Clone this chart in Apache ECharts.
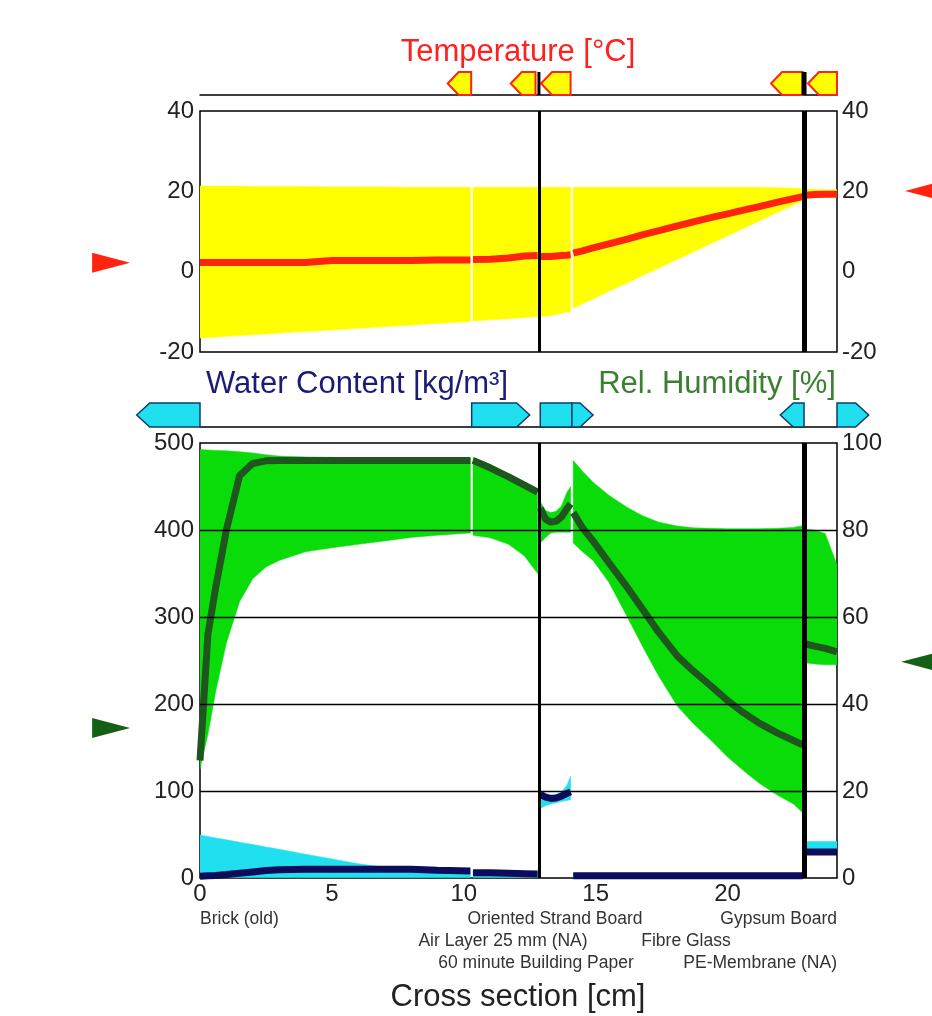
<!DOCTYPE html>
<html><head><meta charset="utf-8">
<script src="https://cdn.jsdelivr.net/npm/echarts@6/dist/echarts.min.js"></script>
<style>html,body{margin:0;padding:0;background:#fff}#c{width:932px;height:1016px}</style>
</head><body><div id="c"></div>
<script>
// ---- cross-section positions [cm]; null separates material layers ----
const crossX = [
  0, 0.3, 0.6, 1.0, 1.5, 2.0, 2.5, 3.0, 4.0, 5.0, 6.0, 7.0, 8.0, 9.0, 10.25, null,
  10.35, 11.0, 11.7, 12.3, 12.8, null,
  12.9, 13.1, 13.3, 13.5, 13.7, 13.9, 14.05, null,
  14.15, 14.5, 14.9, 15.5, 16.2, 16.8, 17.4, 18.1, 18.7, 19.4, 20.0, 20.6, 21.2, 21.9, 22.5, 22.85, null,
  22.95, 23.3, 23.7, 24.15
];
// ---- temperature [°C] ----
const tempMean = [
  2.3,2.3,2.3,2.3,2.3,2.3,2.3,2.3,2.3,2.8,2.8,2.8,2.8,2.9,2.9, null,
  3.0,3.1,3.4,3.9,4.0, null,
  3.8,3.8,3.8,3.9,4.0,4.1,4.2, null,
  4.6,5.2,5.9,6.9,8.1,9.2,10.2,11.4,12.4,13.5,14.4,15.3,16.2,17.3,18.2,18.7, null,
  19.0,19.2,19.3,19.3
];
const tempMax = [
  21.3,21.3,21.3,21.3,21.3,21.2,21.2,21.2,21.2,21.1,21.1,21.1,21.0,21.0,21.0, null,
  21.0,21.0,21.0,21.0,21.0, null,
  21.0,21.0,21.0,21.0,21.0,21.0,21.0, null,
  21.0,21.0,21.0,21.0,21.0,21.0,21.0,21.0,21.0,21.0,21.0,21.0,21.0,20.9,20.8,20.6, null,
  20.6,20.5,20.4,20.4
];
const tempMin = [
  -16.5,-16.4,-16.3,-16.1,-15.9,-15.7,-15.5,-15.3,-14.9,-14.5,-14.1,-13.7,-13.3,-12.9,-12.4, null,
  -12.3,-12.0,-11.7,-11.4,-11.2, null,
  -11.2,-11.1,-10.9,-10.7,-10.4,-10.1,-9.9, null,
  -9.1,-8.0,-6.8,-4.9,-2.8,-0.9,0.9,3.1,4.9,7.1,8.9,10.8,12.6,14.8,16.6,17.7, null,
  18.3,18.4,18.5,18.5
];
// ---- relative humidity [%] ----
const rhMean = [
  27,56,67,80,92.5,95.3,95.9,96.0,96.0,96.0,96.0,96.0,96.0,96.0,96.0, null,
  96.0,94.3,92.2,90.3,88.7, null,
  85.0,82.5,81.8,82.0,83.0,84.8,86.0, null,
  84.0,80.5,77.5,72.5,66.8,61.6,56.4,51.0,47.6,44.0,40.8,38.0,35.6,33.3,31.6,30.6, null,
  53.8,53.3,52.8,52.0
];
const rhMax = [
  98.5,98.4,98.3,98.2,98.0,97.7,97.3,97.0,96.8,96.7,96.6,96.6,96.6,96.6,96.6, null,
  96.7,95.0,92.8,90.8,89.2, null,
  86.5,84.5,84.0,84.3,85.5,88.5,90.0, null,
  96.0,93.5,91.0,88.0,85.2,83.2,81.8,80.9,80.5,80.4,80.3,80.3,80.3,80.4,80.6,81.0, null,
  80.2,80.0,79.2,72.0
];
const rhMin = [
  25,33,43,54,63.5,68.8,71.5,73.0,75.0,75.9,76.7,77.5,78.3,78.8,79.3, null,
  78.8,78.2,76.7,74.0,70.0, null,
  77.0,78.3,79.3,79.5,79.5,79.5,79.5, null,
  77.0,75.0,73.0,68.0,60.0,53.0,46.3,39.5,35.5,31.5,27.8,24.7,21.8,19.0,17.0,15.0, null,
  49.5,49.2,49.0,49.0
];
// ---- water content [kg/m³] ----
const wcMean = [
  2,2.5,3,4,5.5,7,8.5,9.5,10,10,10,10,10,9,8, null,
  6,6,5.5,5,4.5, null,
  96,93,91.5,92,94,97,99, null,
  2.5,2.5,2.5,2.5,2.5,2.5,2.5,2.5,2.5,2.5,2.5,2.5,2.5,2.5,2.5,2.5, null,
  30,30,30,30
];
const wcMax = [
  49.4,47.8,46.1,43.9,41.2,38.4,35.7,33.0,27.4,21.9,16.4,12.5,11.5,10.5,9.0, null,
  8,7.5,7,6.5,6, null,
  99,96,95,96,99,106,117, null,
  5,5,5,5,5,5,5,5,5,5,5,5,5,5,5,5, null,
  42,42,42,42
];
const wcMin = [
  0.5,0.5,0.5,0.5,0.5,0.5,0.5,0.5,0.5,0.5,0.5,0.5,0.5,0.5,0.5, null,
  0.5,0.5,0.5,0.5,0.5, null,
  80,83,85,86.5,88,89,90, null,
  0.5,0.5,0.5,0.5,0.5,0.5,0.5,0.5,0.5,0.5,0.5,0.5,0.5,0.5,0.5,0.5, null,
  30,30,30,30
];
// ---- membranes (thin layers) [cm] ----
const membraneX = [12.85, 22.9];
// ---- indicator markers above the panels [cm] ----
const tempMarkStart = [9.39, 11.78, 12.93, 21.65, 23.05];
const tempMarkEnd   = [10.28, 12.72, 14.05, 22.85, 24.15];
const tempMarkDir   = ['left','left','left','left','left'];
const wcMarkStart = [-2.4, 10.3, 12.9, 14.1, 22.0, 24.15];
const wcMarkEnd   = [0, 12.5, 14.1, 14.9, 22.9, 25.35];
const wcMarkDir   = ['left','right','none','right','left','right'];
// ---- boundary-condition arrows [cm, value] ----
const tempBC = [[-3.37, 2.2], [27.45, 20.1]];
const rhBC   = [[-3.37, 34.5], [27.3, 49.7]];
// ---- axis ticks ----
const xTicks = { min: 0, max: 24.15, interval: 5 };
const tempTicks = { min: -20, max: 40, interval: 20 };
const wcTicks = { min: 0, max: 500, interval: 100 };
const rhTicks = { min: 0, max: 100, interval: 20 };
const wcGridLines = [100, 200, 300, 400];

const FONT = '"Liberation Sans", Arial, Helvetica, sans-serif';
const chart = echarts.init(document.getElementById('c'));

function segments(lo, hi) {
  const segs = []; let cur = [];
  crossX.forEach((x, i) => {
    if (x == null) { if (cur.length) segs.push(cur); cur = []; }
    else cur.push([x, lo[i], hi[i]]);
  });
  if (cur.length) segs.push(cur);
  return segs;
}
function band(xi, yi, lo, hi, color, z) {
  const segs = segments(lo, hi);
  return {
    type: 'custom', xAxisIndex: xi, yAxisIndex: yi, z, silent: true, clip: true,
    data: segs.map(s => [s[0][0], s[0][1]]),
    renderItem(params, api) {
      const s = segs[params.dataIndex];
      const top = s.map(p => api.coord([p[0], p[2]]));
      const bot = s.slice().reverse().map(p => api.coord([p[0], p[1]]));
      return { type: 'polygon', shape: { points: top.concat(bot) }, style: { fill: color, stroke: color, lineWidth: 0.5 } };
    }
  };
}
function lineData(vals) { return crossX.map((x, i) => x == null ? ['-', '-'] : [x, vals[i]]); }
function markers(xi, yi, starts, ends, dirs, fill, stroke, tip, lw) {
  return {
    type: 'custom', xAxisIndex: xi, yAxisIndex: yi, z: 5, silent: true, clip: false,
    data: starts.map(s => [s, 0]),
    renderItem(params, api) {
      const i = params.dataIndex;
      const a = api.coord([starts[i], 1]), b = api.coord([ends[i], 0]);
      const x0 = a[0], x1 = b[0], y0 = a[1], y1 = b[1], ym = (y0 + y1) / 2;
      let pts;
      if (dirs[i] === 'left') pts = [[x0, ym], [x0 + tip, y0], [x1, y0], [x1, y1], [x0 + tip, y1]];
      else if (dirs[i] === 'right') pts = [[x0, y0], [x1 - tip, y0], [x1, ym], [x1 - tip, y1], [x0, y1]];
      else pts = [[x0, y0], [x1, y0], [x1, y1], [x0, y1]];
      return { type: 'polygon', shape: { points: pts }, style: { fill, stroke, lineWidth: lw } };
    }
  };
}
const memWidths = [3, 5];
function dividers(xi, yi) {
  return {
    type: 'custom', xAxisIndex: xi, yAxisIndex: yi, z: 6, silent: true, clip: false,
    data: membraneX.map(x => [x, 0]),
    renderItem(params, api) {
      const i = params.dataIndex;
      const a = api.coord([membraneX[i], 1]), b = api.coord([membraneX[i], 0]);
      return { type: 'line', shape: { x1: a[0], y1: a[1], x2: b[0], y2: b[1] }, style: { stroke: '#000', lineWidth: memWidths[i] } };
    }
  };
}
const memLines = membraneX.map((x, i) => ({ xAxis: x, lineStyle: { width: memWidths[i], color: '#000', type: 'solid' } }));

const labelStyle = { fontSize: 24, fontFamily: FONT, color: '#222' };
const gridBase = { left: 200, width: 637, containLabel: false };
function xAx(gi, showLabels, showLine) {
  return {
    type: 'value', gridIndex: gi, min: xTicks.min, max: xTicks.max, interval: xTicks.interval,
    axisLine: { show: showLine, onZero: false, lineStyle: { color: '#000', width: 1.5 } },
    axisTick: { show: false }, splitLine: { show: false },
    axisLabel: Object.assign({ show: showLabels, margin: 4, showMaxLabel: false }, labelStyle)
  };
}
function yAx(gi, t, pos, show) {
  return {
    type: 'value', gridIndex: gi, position: pos, min: t.min, max: t.max, interval: t.interval,
    show: show, axisLine: { show: false }, axisTick: { show: false }, splitLine: { show: false },
    axisLabel: Object.assign({ margin: pos === 'left' ? 6 : 5 }, labelStyle)
  };
}
function txt(text, x, y, size, color, align) {
  return { type: 'text', x, y, z: 50, silent: true,
    style: { text, fill: color, font: size + 'px ' + FONT, align: align || 'center', textAlign: align || 'center', verticalAlign: 'middle', textVerticalAlign: 'middle' } };
}

chart.setOption({
  animation: false,
  backgroundColor: '#fff',
  grid: [
    Object.assign({ top: 72, height: 23, show: false }, gridBase),
    Object.assign({ top: 111, height: 241, show: true, borderColor: '#000', borderWidth: 1.5 }, gridBase),
    Object.assign({ top: 403, height: 24, show: false }, gridBase),
    Object.assign({ top: 443, height: 435, show: true, borderColor: '#000', borderWidth: 1.5 }, gridBase)
  ],
  xAxis: [xAx(0, false, true), xAx(1, false, false), xAx(2, false, true), xAx(3, true, false)],
  yAxis: [
    { type: 'value', gridIndex: 0, min: 0, max: 1, show: false },
    yAx(1, tempTicks, 'left', true),
    yAx(1, tempTicks, 'right', true),
    { type: 'value', gridIndex: 2, min: 0, max: 1, show: false },
    yAx(3, wcTicks, 'left', true),
    yAx(3, rhTicks, 'right', true)
  ],
  series: [
    band(1, 1, tempMin, tempMax, '#FFFF00', 2),
    { type: 'line', xAxisIndex: 1, yAxisIndex: 1, z: 3, data: lineData(tempMean), symbol: 'none', silent: true,
      connectNulls: false, lineStyle: { color: '#FF2410', width: 7 },
      markLine: { silent: true, symbol: ['none', 'none'], label: { show: false }, animation: false, data: memLines } },
    band(3, 5, rhMin, rhMax, '#0ADC0A', 2),
    { type: 'line', xAxisIndex: 3, yAxisIndex: 5, z: 3, data: lineData(rhMean), symbol: 'none', silent: true,
      connectNulls: false, lineStyle: { color: '#1E561E', width: 7 } },
    band(3, 4, wcMin, wcMax, '#20E0F0', 3),
    { type: 'line', xAxisIndex: 3, yAxisIndex: 4, z: 4, data: lineData(wcMean), symbol: 'none', silent: true,
      connectNulls: false, lineStyle: { color: '#0C0C5C', width: 7 },
      markLine: { silent: true, symbol: ['none', 'none'], label: { show: false }, animation: false,
        data: wcGridLines.map(v => ({ yAxis: v, lineStyle: { color: '#000', width: 1.3, type: 'solid' } })).concat(memLines) } },
    markers(0, 0, tempMarkStart, tempMarkEnd, tempMarkDir, '#FFFF00', '#FF2410', 11, 2),
    dividers(0, 0),
    markers(2, 3, wcMarkStart, wcMarkEnd, wcMarkDir, '#20E0F0', '#0C3C6C', 13, 1.5),
    { type: 'scatter', xAxisIndex: 1, yAxisIndex: 1, z: 8, clip: false, silent: true,
      symbol: 'triangle', symbolSize: [20, 38], itemStyle: { color: '#FF2410', opacity: 1 },
      data: [{ value: tempBC[0], symbolRotate: -90 }, { value: tempBC[1], symbolRotate: 90 }] },
    { type: 'scatter', xAxisIndex: 3, yAxisIndex: 5, z: 8, clip: false, silent: true,
      symbol: 'triangle', symbolSize: [20, 38], itemStyle: { color: '#166016', opacity: 1 },
      data: [{ value: rhBC[0], symbolRotate: -90 }, { value: rhBC[1], symbolRotate: 90 }] }
  ],
  graphic: [
    txt('Temperature [°C]', 518, 52, 31, '#FF2020'),
    txt('Water Content [kg/m³]', 357, 384, 31, '#1C1C78'),
    txt('Rel. Humidity [%]', 717, 384, 31, '#3A8030'),
    txt('Brick (old)', 200, 919, 17.5, '#333', 'left'),
    txt('Oriented Strand Board', 555, 919, 17.5, '#333'),
    txt('Gypsum Board', 837, 919, 17.5, '#333', 'right'),
    txt('Air Layer 25 mm (NA)', 503, 941, 17.5, '#333'),
    txt('Fibre Glass', 686, 941, 17.5, '#333'),
    txt('60 minute Building Paper', 536, 963, 17.5, '#333'),
    txt('PE-Membrane (NA)', 837, 963, 17.5, '#333', 'right'),
    txt('Cross section [cm]', 518, 997, 31, '#222')
  ]
});
</script>
</body></html>
